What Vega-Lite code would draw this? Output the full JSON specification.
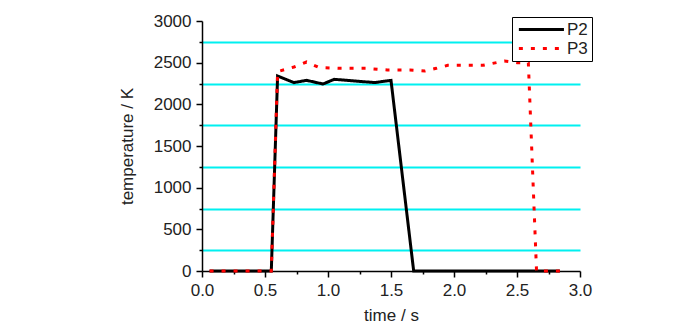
{
  "$schema": "https://vega.github.io/schema/vega-lite/v6.json",
  "autosize": "none",
  "width": 378,
  "height": 250,
  "padding": {"left": 202, "top": 21, "right": 120, "bottom": 61},
  "background": "white",
  "config": {
    "view": {"stroke": null},
    "font": "Liberation Sans",
    "axis": {
      "labelFont": "Liberation Sans",
      "titleFont": "Liberation Sans",
      "labelFontSize": 17,
      "titleFontSize": 17,
      "titleFontWeight": "normal",
      "labelColor": "#222",
      "titleColor": "#222",
      "domainColor": "black",
      "domainWidth": 1.5,
      "tickColor": "black",
      "tickWidth": 1.5
    }
  },
  "data": {
    "values": [
      {"t": 0.06, "T": 0, "series": "P2"},
      {"t": 0.55, "T": 0, "series": "P2"},
      {"t": 0.60, "T": 2340, "series": "P2"},
      {"t": 0.73, "T": 2261, "series": "P2"},
      {"t": 0.83, "T": 2288, "series": "P2"},
      {"t": 0.96, "T": 2244, "series": "P2"},
      {"t": 1.05, "T": 2300, "series": "P2"},
      {"t": 1.37, "T": 2261, "series": "P2"},
      {"t": 1.50, "T": 2288, "series": "P2"},
      {"t": 1.68, "T": 0, "series": "P2"},
      {"t": 2.84, "T": 0, "series": "P2"},
      {"t": 0.06, "T": 0, "series": "P3"},
      {"t": 0.55, "T": 0, "series": "P3"},
      {"t": 0.60, "T": 2393, "series": "P3"},
      {"t": 0.73, "T": 2448, "series": "P3"},
      {"t": 0.83, "T": 2508, "series": "P3"},
      {"t": 0.93, "T": 2441, "series": "P3"},
      {"t": 1.09, "T": 2432, "series": "P3"},
      {"t": 1.30, "T": 2432, "series": "P3"},
      {"t": 1.47, "T": 2412, "series": "P3"},
      {"t": 1.65, "T": 2412, "series": "P3"},
      {"t": 1.77, "T": 2400, "series": "P3"},
      {"t": 1.86, "T": 2432, "series": "P3"},
      {"t": 1.95, "T": 2468, "series": "P3"},
      {"t": 2.23, "T": 2468, "series": "P3"},
      {"t": 2.40, "T": 2520, "series": "P3"},
      {"t": 2.50, "T": 2500, "series": "P3"},
      {"t": 2.59, "T": 2500, "series": "P3"},
      {"t": 2.655, "T": 0, "series": "P3"},
      {"t": 2.84, "T": 0, "series": "P3"}
    ]
  },
  "mark": {"type": "line", "strokeWidth": 3, "clip": false},
  "encoding": {
    "x": {
      "field": "t",
      "type": "quantitative",
      "scale": {"domain": [0, 3], "nice": false, "zero": false},
      "axis": {
        "title": "time / s",
        "values": [0, 0.25, 0.5, 0.75, 1, 1.25, 1.5, 1.75, 2, 2.25, 2.5, 2.75, 3],
        "format": ".1f",
        "labelExpr": "datum.value % 0.5 === 0 ? datum.label : ''",
        "tickSize": {"condition": {"test": "datum.value % 0.5 === 0", "value": 6}, "value": 3},
        "grid": false,
        "labelPadding": 5,
        "titlePadding": 9,
        "labelOverlap": false,
        "labelFlush": false
      }
    },
    "y": {
      "field": "T",
      "type": "quantitative",
      "scale": {"domain": [0, 3000], "nice": false},
      "axis": {
        "title": "temperature / K",
        "values": [0, 250, 500, 750, 1000, 1250, 1500, 1750, 2000, 2250, 2500, 2750, 3000],
        "format": "d",
        "labelExpr": "datum.value % 500 === 0 ? datum.label : ''",
        "tickSize": {"condition": {"test": "datum.value % 500 === 0", "value": 6}, "value": 3},
        "grid": true,
        "gridColor": "#00f0f0",
        "gridWidth": 2,
        "gridOpacity": {"condition": {"test": "datum.value % 500 === 0", "value": 0}, "value": 1},
        "labelPadding": 5,
        "titlePadding": 17,
        "labelOverlap": false,
        "labelFlush": false
      }
    },
    "color": {
      "field": "series",
      "type": "nominal",
      "scale": {"domain": ["P2", "P3"], "range": ["black", "red"]},
      "legend": {
        "title": null,
        "orient": "none",
        "legendX": 310,
        "legendY": -4,
        "strokeColor": "black",
        "fillColor": "white",
        "padding": 4,
        "symbolType": "M-1,0H7",
        "symbolSize": 127,
        "symbolStrokeWidth": 3,
        "labelFont": "Liberation Sans",
        "labelFontSize": 17,
        "labelColor": "#222",
        "rowPadding": 1,
        "labelOffset": 34
      }
    },
    "strokeDash": {
      "field": "series",
      "type": "nominal",
      "scale": {"domain": ["P2", "P3"], "range": [[1, 0], [4, 8]]},
      "legend": {
        "title": null,
        "orient": "none",
        "legendX": 310,
        "legendY": -4,
        "strokeColor": "black",
        "fillColor": "white",
        "padding": 4,
        "symbolType": "M-1,0H7",
        "symbolSize": 127,
        "symbolStrokeWidth": 3,
        "labelFont": "Liberation Sans",
        "labelFontSize": 17,
        "labelColor": "#222",
        "rowPadding": 1,
        "labelOffset": 34
      }
    },
    "order": {"field": "t", "type": "quantitative"}
  }
}
